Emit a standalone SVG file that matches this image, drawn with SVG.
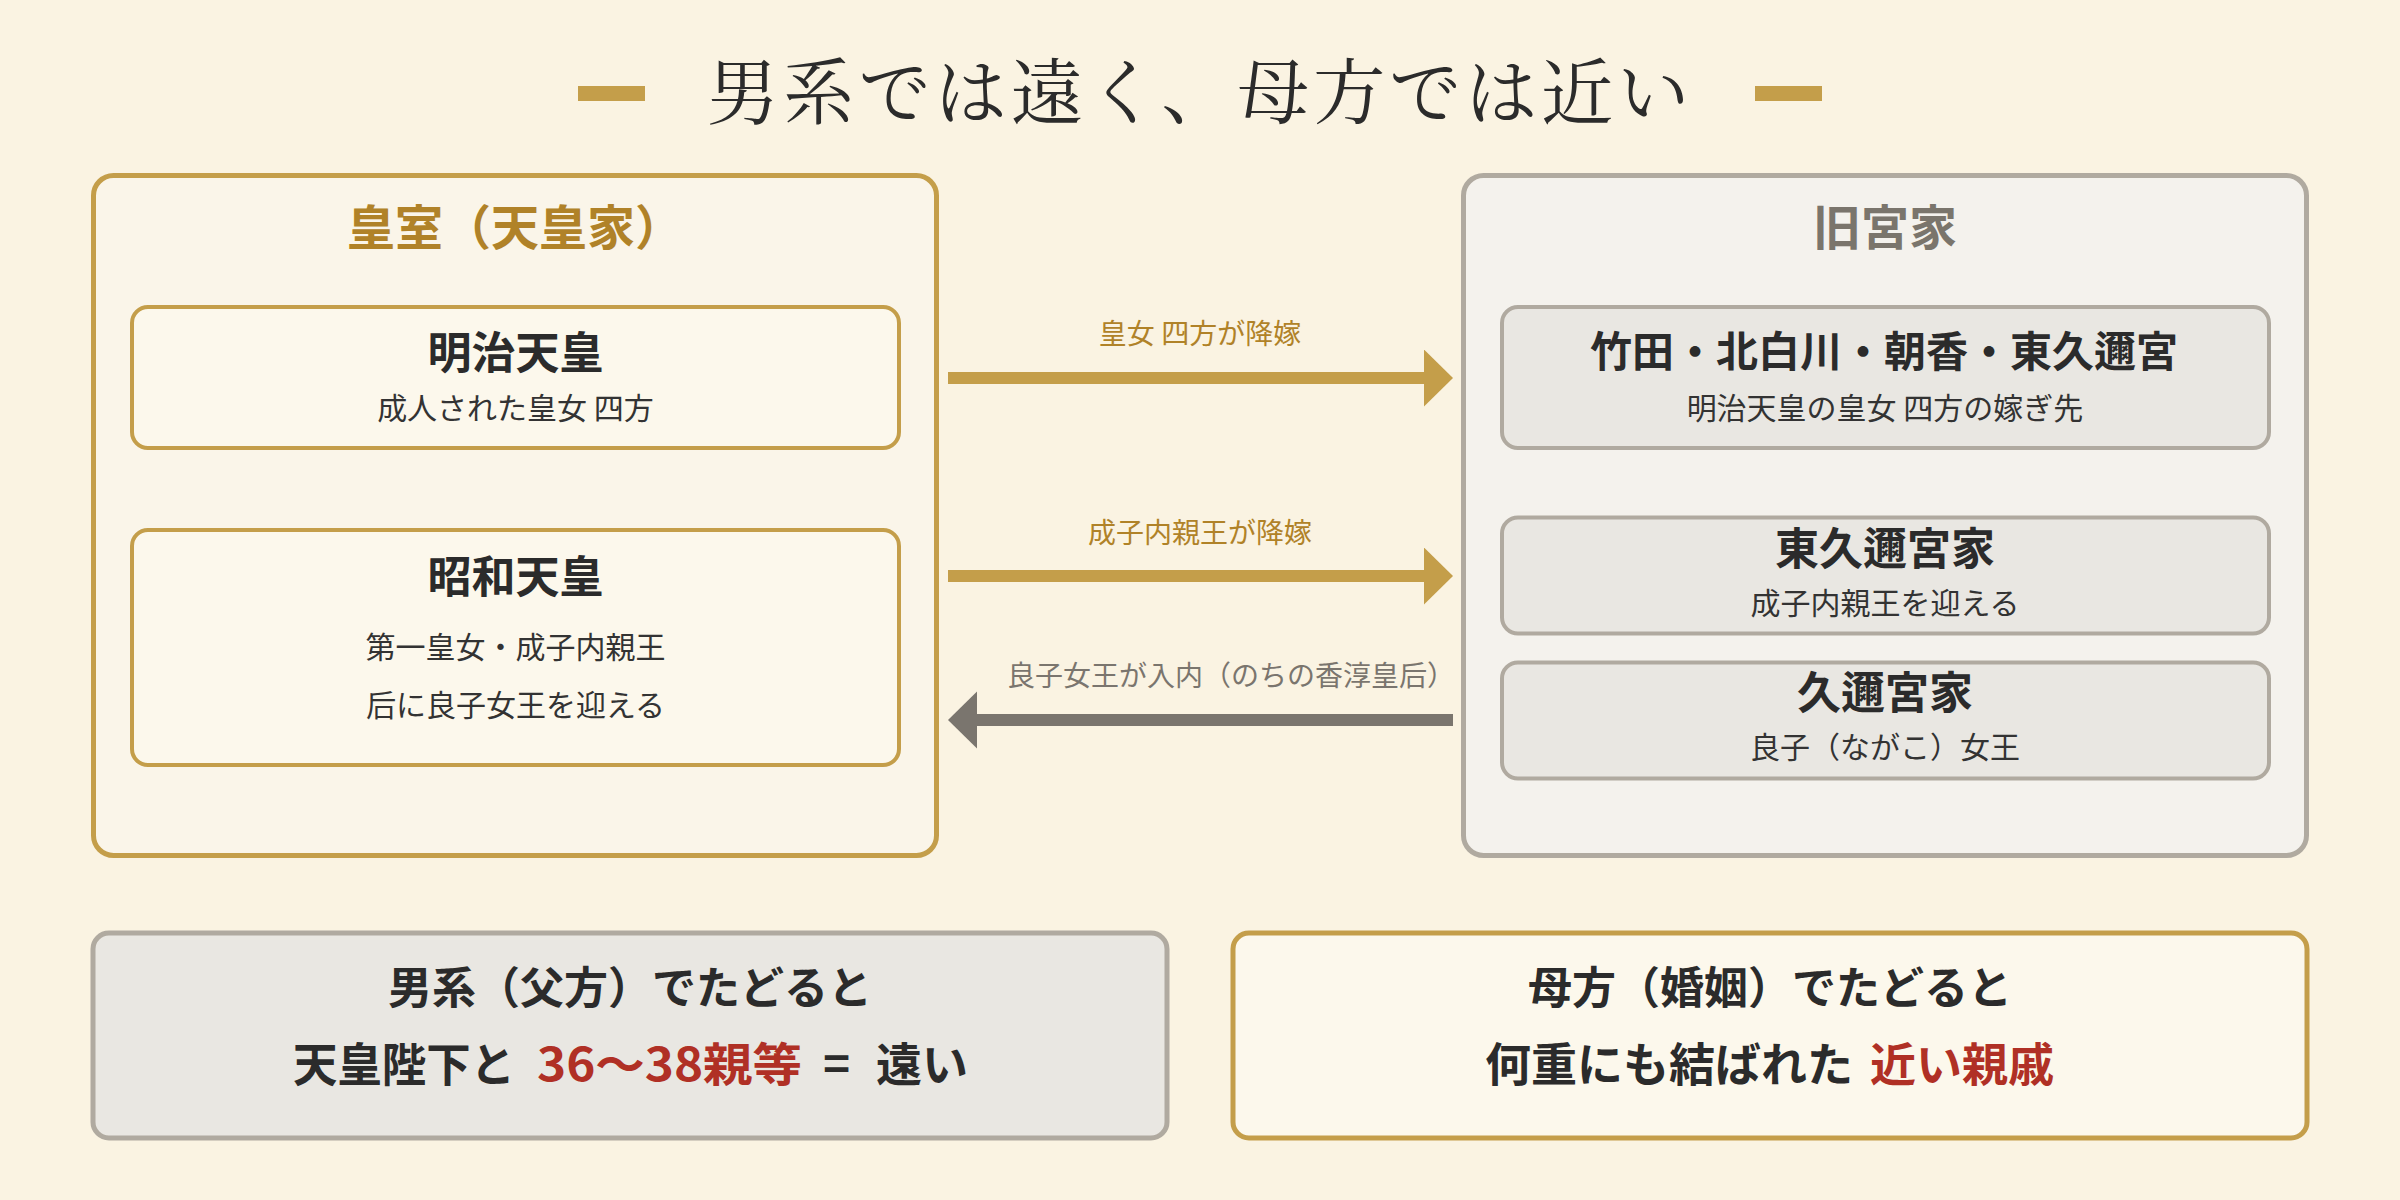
<svg xmlns="http://www.w3.org/2000/svg" width="2400" height="1200" viewBox="0 0 2400 1200">
<defs>
<style>
.sans{font-family:"Noto Sans CJK JP","Noto Sans CJK SC",sans-serif;}
.ttl{font-family:"Noto Serif CJK JP","Noto Serif JP","Noto Sans CJK JP",serif;font-size:72px;fill:#2b2b2b;letter-spacing:4px;}
.gh{font-size:48px;font-weight:700;}
.nh{font-size:44px;font-weight:700;fill:#2b2b2b;}
.ns{font-size:30px;fill:#333333;}
.lbl{font-size:28px;}
.bt{font-size:44px;font-weight:700;fill:#2b2b2b;}
.bt2{font-size:46px;font-weight:700;fill:#2b2b2b;}
.red{fill:#b03025;}
.gold-box{fill:#fcf8ec;stroke:#c49e4a;stroke-width:4;}
.gray-box{fill:#e9e7e2;stroke:#b0aaa0;stroke-width:4;}
</style>
<marker id="hg" markerUnits="userSpaceOnUse" markerWidth="30" markerHeight="58" refX="2" refY="28.5" orient="auto">
<path d="M0,0 L29,28.5 L0,57 Z" fill="#c49e4a"/>
</marker>
<marker id="hd" markerUnits="userSpaceOnUse" markerWidth="30" markerHeight="58" refX="2" refY="28.5" orient="auto">
<path d="M0,0 L29,28.5 L0,57 Z" fill="#7a756e"/>
</marker>
</defs>
<rect x="0" y="0" width="2400" height="1200" fill="#faf3e2"/>

<g id="title">
<rect x="578" y="86" width="67" height="15" fill="#c49e4a"/>
<rect x="1755" y="86" width="67" height="15" fill="#c49e4a"/>
<text class="ttl" x="1200" y="118" text-anchor="middle">男系では遠く、母方では近い</text>
</g>

<g id="imperial" class="sans">
<rect x="93.5" y="175.5" width="843" height="680" rx="20" fill="#faf5e9" stroke="#c49e4a" stroke-width="5"/>
<text class="gh" x="515" y="244.5" text-anchor="middle" fill="#b08228">皇室（天皇家）</text>
</g>

<g id="meiji" class="sans">
<rect class="gold-box" x="132" y="307" width="767" height="141" rx="16"/>
<text class="nh" x="515.5" y="368.5" text-anchor="middle">明治天皇</text>
<text class="ns" x="515.5" y="419" text-anchor="middle">成人された皇女 四方</text>
</g>

<g id="showa" class="sans">
<rect class="gold-box" x="132" y="530" width="767" height="235" rx="16"/>
<text class="nh" x="515.5" y="592.5" text-anchor="middle">昭和天皇</text>
<text class="ns" x="515.5" y="657.5" text-anchor="middle">第一皇女・成子内親王</text>
<text class="ns" x="515.5" y="716" text-anchor="middle">后に良子女王を迎える</text>
</g>

<g id="former" class="sans">
<rect x="1463.5" y="175.5" width="843" height="680" rx="20" fill="#f4f2ed" stroke="#b0aaa0" stroke-width="5"/>
<text class="gh" x="1885" y="244.5" text-anchor="middle" fill="#7a756c">旧宮家</text>
</g>

<g id="four" class="sans">
<rect class="gray-box" x="1502" y="307" width="767" height="141" rx="16"/>
<text class="nh" x="1884" y="367" text-anchor="middle" style="font-size:42px">竹田・北白川・朝香・東久邇宮</text>
<text class="ns" x="1885" y="419" text-anchor="middle">明治天皇の皇女 四方の嫁ぎ先</text>
</g>

<g id="higashikuni" class="sans">
<rect class="gray-box" x="1502" y="517.5" width="767" height="116" rx="16"/>
<text class="nh" x="1885" y="564.5" text-anchor="middle">東久邇宮家</text>
<text class="ns" x="1885" y="614" text-anchor="middle">成子内親王を迎える</text>
</g>

<g id="kuni" class="sans">
<rect class="gray-box" x="1502" y="662.5" width="767" height="116" rx="16"/>
<text class="nh" x="1885" y="709" text-anchor="middle">久邇宮家</text>
<text class="ns" x="1885" y="758" text-anchor="middle">良子（ながこ）女王</text>
</g>

<g id="connectors" class="sans">
<line x1="948" y1="378" x2="1426" y2="378" stroke="#c49e4a" stroke-width="12" marker-end="url(#hg)"/>
<text class="lbl" x="1200" y="343.5" text-anchor="middle" fill="#b08228">皇女 四方が降嫁</text>
<line x1="948" y1="576" x2="1426" y2="576" stroke="#c49e4a" stroke-width="12" marker-end="url(#hg)"/>
<text class="lbl" x="1200" y="542.5" text-anchor="middle" fill="#b08228">成子内親王が降嫁</text>
<line x1="1453" y1="720" x2="975" y2="720" stroke="#7a756e" stroke-width="12" marker-end="url(#hd)"/>
<text class="lbl" x="1231" y="686" text-anchor="middle" fill="#7a756e">良子女王が入内（のちの香淳皇后）</text>
</g>

<g id="paternal" class="sans">
<rect x="93" y="933" width="1074" height="205" rx="16" fill="#e9e7e2" stroke="#b0aaa0" stroke-width="5"/>
<text class="bt" x="630" y="1003.5" text-anchor="middle">男系（父方）でたどると</text>
<text class="bt2" y="1081"><tspan x="293" textLength="222" lengthAdjust="spacingAndGlyphs">天皇陛下と</tspan><tspan x="537" class="red" textLength="265" lengthAdjust="spacingAndGlyphs">36〜38親等</tspan><tspan x="836.5" text-anchor="middle">=</tspan><tspan x="876">遠い</tspan></text>
</g>

<g id="maternal" class="sans">
<rect x="1233" y="933" width="1074" height="205" rx="16" fill="#fcf8ec" stroke="#c49e4a" stroke-width="5"/>
<text class="bt" x="1770" y="1003.5" text-anchor="middle">母方（婚姻）でたどると</text>
<text class="bt2" y="1081"><tspan x="1485">何重にも結ばれた</tspan><tspan x="1870" class="red">近い親戚</tspan></text>
</g>
</svg>
